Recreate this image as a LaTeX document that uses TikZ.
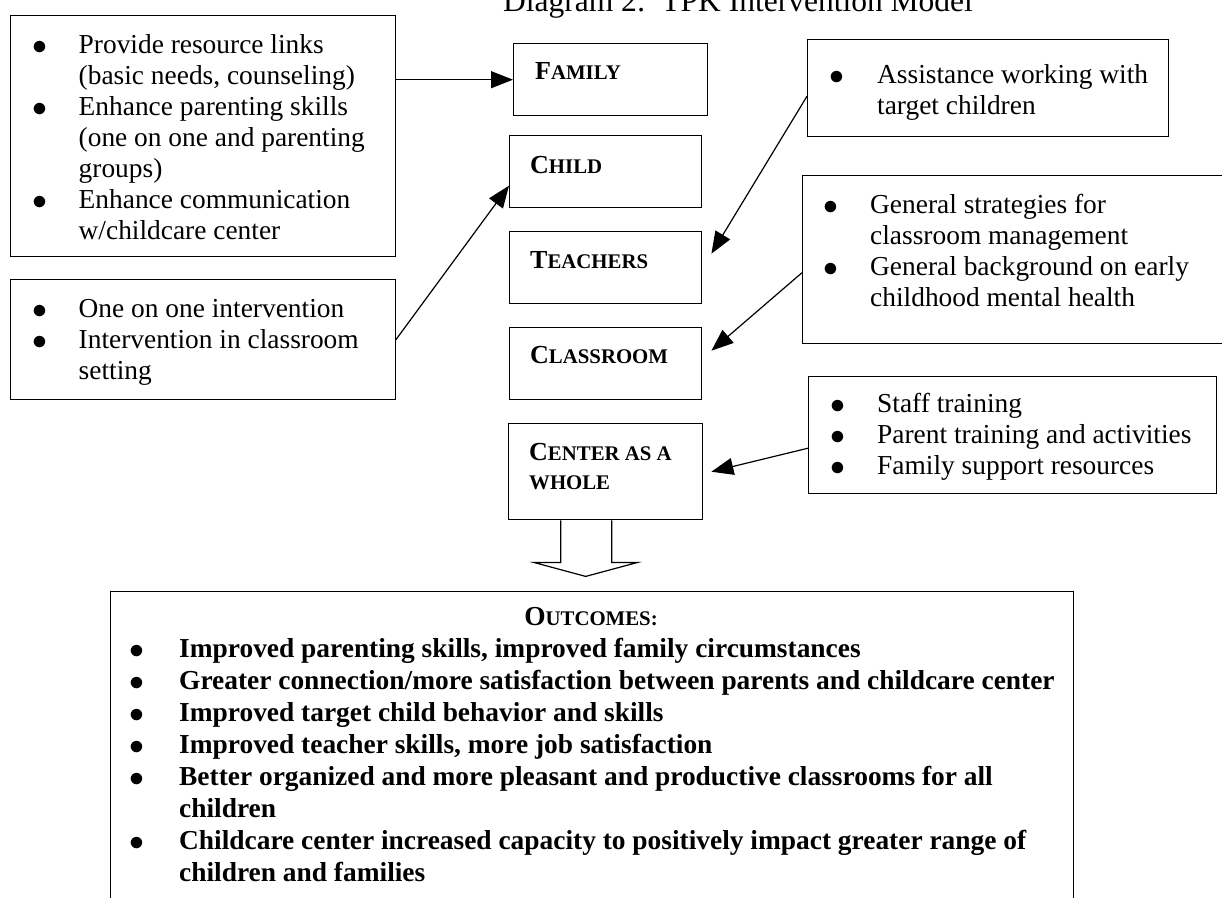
\documentclass[tikz,border=0pt]{standalone}
\usepackage{fontspec}
\setmainfont{Liberation Serif}
\usetikzlibrary{arrows.meta,positioning,calc}

% small caps by hand: first letter full size, rest smaller
\newcommand\sclbl[2]{#1{\fontsize{20.8}{25}\selectfont #2}}
\newcommand\bl{\smash{\raisebox{-1.5pt}{\scalebox{1.2}{$\bullet$}}}}

\tikzset{
  box/.style={draw, line width=1.4pt, inner sep=0pt, anchor=north west},
  lbl/.style={anchor=base west, inner sep=0pt, font=\fontsize{26}{29}\selectfont\bfseries},
  txt/.style={anchor=base west, inner sep=0pt, font=\fontsize{27.4}{31}\selectfont},
  conn/.style={line width=1.2pt, -{Triangle[length=22pt,width=17pt]}},
}

\begin{document}
\begin{tikzpicture}[x=1pt,y=-1pt]
  \useasboundingbox (0,0) rectangle (1222,897);

  \node[anchor=base, inner sep=0pt, font=\fontsize{31.5}{36}\selectfont] (title) at (738,11)
    {Diagram 2:\ \ TPK Intervention Model};

  % centre column
  \node[box, minimum width=194pt, minimum height=72pt] (family) at (513,43) {};
  \node[box, minimum width=192pt, minimum height=72pt] (child) at (509,135) {};
  \node[box, minimum width=192pt, minimum height=72pt] (teachers) at (509,231) {};
  \node[box, minimum width=192pt, minimum height=72pt] (classroom) at (509,327) {};
  \node[box, minimum width=194pt, minimum height=96pt] (ctr) at (508,423) {};
  \node[lbl] (familylbl) at (535,79) {\sclbl{F}{AMILY}};
  \node[lbl] (childlbl) at (530,173) {\sclbl{C}{HILD}};
  \node[lbl] (teacherslbl) at (530,268) {\sclbl{T}{EACHERS}};
  \node[lbl] (classroomlbl) at (530,363) {\sclbl{C}{LASSROOM}};
  \node[lbl] (ctrlbl) at (529,460) {\begin{tabular}[t]{@{}l@{}}
      \sclbl{C}{ENTER AS A}\\[0pt] \sclbl{}{WHOLE}\end{tabular}};

  % left boxes
  \node[box, minimum width=385pt, minimum height=241pt] (boxA) at (9.5,15) {};
  \node[txt] (txtA) at (32,53) {\begin{tabular}[t]{@{}p{46.5pt}@{}l@{}}
      \bl & Provide resource links\\
          & (basic needs, counseling)\\
      \bl & Enhance parenting skills\\
          & (one on one and parenting\\
          & groups)\\
      \bl & Enhance communication\\
          & w/childcare center
    \end{tabular}};
  \node[box, minimum width=385pt, minimum height=120pt] (boxB) at (9.5,279) {};
  \node[txt] (txtB) at (32,317) {\begin{tabular}[t]{@{}p{46.5pt}@{}l@{}}
      \bl & One on one intervention\\
      \bl & Intervention in classroom\\
          & setting
    \end{tabular}};

  % right boxes
  \node[box, minimum width=361pt, minimum height=97pt] (boxC) at (807,39) {};
  \node[txt] (txtC) at (829,83) {\begin{tabular}[t]{@{}p{48pt}@{}l@{}}
      \bl & Assistance working with\\
          & target children
    \end{tabular}};
  \node[box, minimum width=430pt, minimum height=168pt] (boxD) at (802,175) {};
  \node[txt] (txtD) at (823,213) {\begin{tabular}[t]{@{}p{47pt}@{}l@{}}
      \bl & General strategies for\\
          & classroom management\\
      \bl & General background on early\\
          & childhood mental health
    \end{tabular}};
  \node[box, minimum width=408pt, minimum height=117pt] (boxE) at (808,376) {};
  \node[txt] (txtE) at (830,412) {\begin{tabular}[t]{@{}p{47pt}@{}l@{}}
      \bl & Staff training\\
      \bl & Parent training and activities\\
      \bl & Family support resources
    \end{tabular}};

  % connectors
  \draw[conn] (boxA.east |- family.west) -- (family.west);
  \draw[conn] (boxB.east) -- ([yshift=-14pt]child.west);
  \draw[conn] ([yshift=-8pt]boxC.west) -- ([xshift=9pt,yshift=14pt]teachers.east);
  \draw[conn] ([yshift=-13pt]boxD.west) -- ([xshift=9pt,yshift=13pt]classroom.east);
  \draw[conn] ([yshift=-13pt]boxE.west) -- ([xshift=8pt]ctr.east);

  % block arrow down to outcomes
  \draw[line width=1.2pt, fill=white, shift={(ctr.south)}]
    (-45,0) -- (-45,42) -- (-72,42) -- (-20,56) -- (32,42) -- (6,42) -- (6,0);

  % outcomes
  \node[box, minimum width=963pt, minimum height=312pt] (outcomes) at (110,591) {};
  \node[anchor=base, inner sep=0pt, font=\fontsize{27.4}{31}\selectfont\bfseries]
    (outtitle) at (591,625) {\sclbl{O}{UTCOMES:}};
  \node[txt, font=\fontsize{27.4}{32}\selectfont\bfseries] (outlist) at (129,657)
    {\begin{tabular}[t]{@{}p{50pt}@{}l@{}}
      \bl & Improved parenting skills, improved family circumstances\\
      \bl & Greater connection/more satisfaction between parents and childcare center\\
      \bl & Improved target child behavior and skills\\
      \bl & Improved teacher skills, more job satisfaction\\
      \bl & Better organized and more pleasant and productive classrooms for all\\
          & children\\
      \bl & Childcare center increased capacity to positively impact greater range of\\
          & children and families
    \end{tabular}};
\end{tikzpicture}
\end{document}
